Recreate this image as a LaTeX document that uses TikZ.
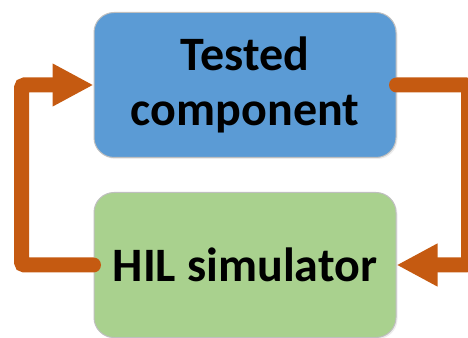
\documentclass[tikz,border=0pt]{standalone}
\usepackage{fontspec}
\setmainfont{Carlito}
\usepackage{xcolor}
\usepackage{tikz}
\usetikzlibrary{positioning, arrows.meta, shadows}

\definecolor{testblue}{HTML}{5B9BD5}
\definecolor{hilgreen}{HTML}{A9D18E}
\definecolor{loopred}{HTML}{C55A11}

\begin{document}
\begin{tikzpicture}[
    x=1pt, y=1pt,
    block/.style={rectangle, draw=black!25, line width=1pt, text width=290pt, align=center, rounded corners=20pt, minimum width=302pt, minimum height=145pt, inner sep=0pt, font=\fontsize{48}{55}\selectfont\bfseries, drop shadow={opacity=0.15, shadow xshift=1.5pt, shadow yshift=-1.5pt}},
    line/.style={draw=loopred, line width=15pt, line cap=round, rounded corners=3pt, -{Triangle[length=41pt, width=40pt]}}
]
\useasboundingbox (0,0) rectangle (468,337);

\node [block, fill=testblue] (tested) at (245,252) {Tested\\component};
\node [block, fill=hilgreen, below=34pt of tested] (hil) {HIL\hspace{-0.1em} simulator};

\path [line] (hil.west) -- ++(-72,0) |- (tested.west);
\path [line] (tested.east) -- ++(72,0) |- (hil.east);
\end{tikzpicture}
\end{document}
